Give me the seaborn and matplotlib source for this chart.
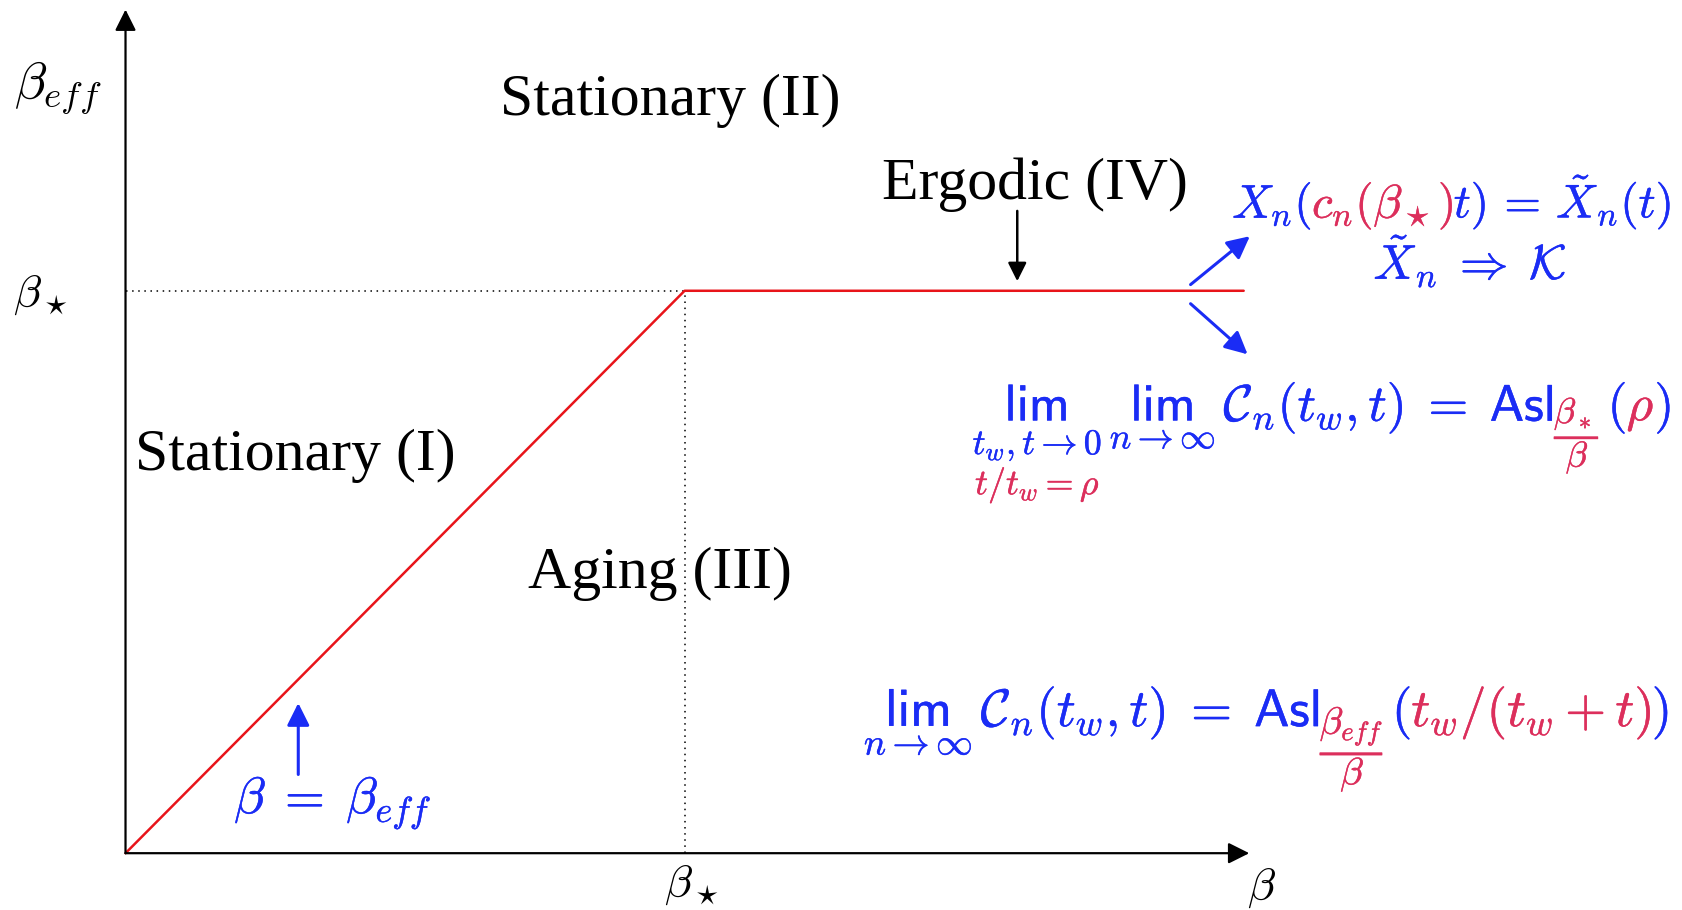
import matplotlib
matplotlib.use("Agg")
import matplotlib.pyplot as plt
import matplotlib.transforms as mtransforms
import matplotlib.patheffects as pe
import seaborn as sns

# phase diagram data: effective inverse temperature vs beta
beta = [0.0, 1.0, 2.0]
beta_eff = [0.0, 1.0, 1.0]
beta_star = 1.0
x_axis_end = 2.01
y_axis_end = 1.50

region_labels = ["Stationary (II)", "Ergodic (IV)", "Stationary (I)", "Aging (III)"]
region_pos = [(0.974, 1.313), (1.627, 1.164), (0.303, 0.681), (0.956, 0.471)]

BLUE = "#1a2cf5"
PINK = "#dc2f5c"
RED = "#e8141a"
STROKE = 0.3

sns.set_theme(style="white")
plt.rcParams["mathtext.fontset"] = "cm"
plt.rcParams["text.color"] = "black"
plt.rcParams["font.family"] = ["Liberation Serif", "DejaVu Serif"]

fig = plt.figure(figsize=(16.82, 9.10), dpi=100)
ax = fig.add_axes([0, 0, 1, 1])
ax.set_xlim(-0.2245, 2.784)
ax.set_ylim(-0.101, 1.517)
ax.axis("off")

# axes arrows
arrow_kw = dict(arrowstyle="-|>", lw=1.6, color="black", mutation_scale=32,
                shrinkA=0, shrinkB=0)
ax.annotate("", xy=(x_axis_end, 0), xytext=(0, 0), arrowprops=arrow_kw)
ax.annotate("", xy=(0, y_axis_end), xytext=(0, 0), arrowprops=arrow_kw)

# dotted guides at beta_star
ax.plot([0, beta_star], [beta_star, beta_star], ls=(0, (1, 3)), color="black", lw=1.1)
ax.plot([beta_star, beta_star], [0, beta_star], ls=(0, (1, 3)), color="black", lw=1.1)

# the red curve
sns.lineplot(x=beta, y=beta_eff, color=RED, lw=1.8, ax=ax, legend=False)

# axis labels
ax.text(-0.122, 1.36, r"$\beta_{eff}$", fontsize=38, ha="center", va="center")
ax.text(-0.153, 0.992, r"$\beta_\star$", fontsize=33, ha="center", va="center")
ax.text(1.013, -0.057, r"$\beta_\star$", fontsize=33, ha="center", va="center")
ax.text(2.032, -0.062, r"$\beta$", fontsize=33, ha="center", va="center")

for lab, (x, y) in zip(region_labels, region_pos):
    ax.text(x, y, lab, fontsize=43, ha="center", va="baseline")

# ergodic arrow
ax.annotate("", xy=(1.595, 1.017), xytext=(1.595, 1.142),
            arrowprops=dict(arrowstyle="-|>", lw=1.8, color="black",
                            mutation_scale=28, shrinkA=0, shrinkB=0))

# blue arrows
blue_kw = dict(arrowstyle="-|>", lw=2.2, color=BLUE, mutation_scale=34,
               shrinkA=0, shrinkB=0)
ax.annotate("", xy=(0.309, 0.267), xytext=(0.309, 0.140), arrowprops=blue_kw)
ax.annotate("", xy=(2.011, 1.097), xytext=(1.905, 1.011), arrowprops=blue_kw)
ax.annotate("", xy=(2.007, 0.887), xytext=(1.905, 0.977), arrowprops=blue_kw)

ax.text(0.371, 0.090, r"$\beta\;=\;\beta_{eff}$", fontsize=37, color=BLUE,
        ha="center", va="center",
        path_effects=[pe.withStroke(linewidth=STROKE, foreground=BLUE)])

renderer = fig.canvas.get_renderer()


def rich_text(x, y, parts, size, ha="left"):
    """parts: (text, colour, scale, dy_px); placed on one baseline."""
    items = []
    off = 0.0
    for s, c, sc, dy in parts:
        t = ax.text(x, y, s, color=c, fontsize=size * sc, ha="left", va="baseline",
                    path_effects=[pe.withStroke(linewidth=STROKE, foreground=c)])
        w = t.get_window_extent(renderer).width
        items.append((t, off, dy))
        off += w
    shift = {"left": 0.0, "center": -off / 2, "right": -off}[ha]
    for t, o, dy in items:
        t.set_transform(mtransforms.offset_copy(ax.transData, fig=fig,
                                                x=o + shift, y=dy, units="dots"))
    return [it[0] for it in items]


rich_text(2.765, 1.130, [
    (r"$X_n($", BLUE, 1, 0),
    (r"$c_n(\beta_\star)$", PINK, 1, 0),
    (r"$t)\,=\,\tilde{X}_n(t)$", BLUE, 1, 0),
], 34, ha="right")
rich_text(2.405, 1.021, [(r"$\tilde{X}_n\;\Rightarrow\;\mathcal{K}$", BLUE, 1, 0)],
          35, ha="center")

f2 = rich_text(2.765, 0.769, [
    (r"$\underset{t_w,t\to 0}{\mathsf{lim}}$", BLUE, 1, 0),
    (r"$\,\underset{n\to\infty}{\mathsf{lim}}$", BLUE, 1, 0),
    (r"$\,\mathcal{C}_n(t_w,t)\;=\;\mathsf{Asl}$", BLUE, 1, 0),
    (r"$\dfrac{\beta_*}{\beta}$", PINK, 0.7, -23),
    (r"$\,($", BLUE, 1, 0),
    (r"$\rho$", PINK, 1, 0),
    (r"$)$", BLUE, 1, 0),
], 37, ha="right")
ax.annotate(r"$t/t_w{=}\rho$", xy=(0.5, 0), xycoords=f2[0], xytext=(0, -1),
            textcoords="offset points", ha="center", va="top",
            color=PINK, fontsize=37 * 0.7,
            path_effects=[pe.withStroke(linewidth=STROKE, foreground=PINK)])

rich_text(2.761, 0.226, [
    (r"$\underset{n\to\infty}{\mathsf{lim}}$", BLUE, 1, 0),
    (r"$\,\mathcal{C}_n(t_w,t)\;=\;\mathsf{Asl}$", BLUE, 1, 0),
    (r"$\dfrac{\beta_{eff}}{\beta}$", PINK, 0.72, -34),
    (r"$\,($", BLUE, 1, 0),
    (r"$t_w/(t_w+t)$", PINK, 1, 0),
    (r"$)$", BLUE, 1, 0),
], 38, ha="right")

fig.savefig("out.png", dpi=100)
